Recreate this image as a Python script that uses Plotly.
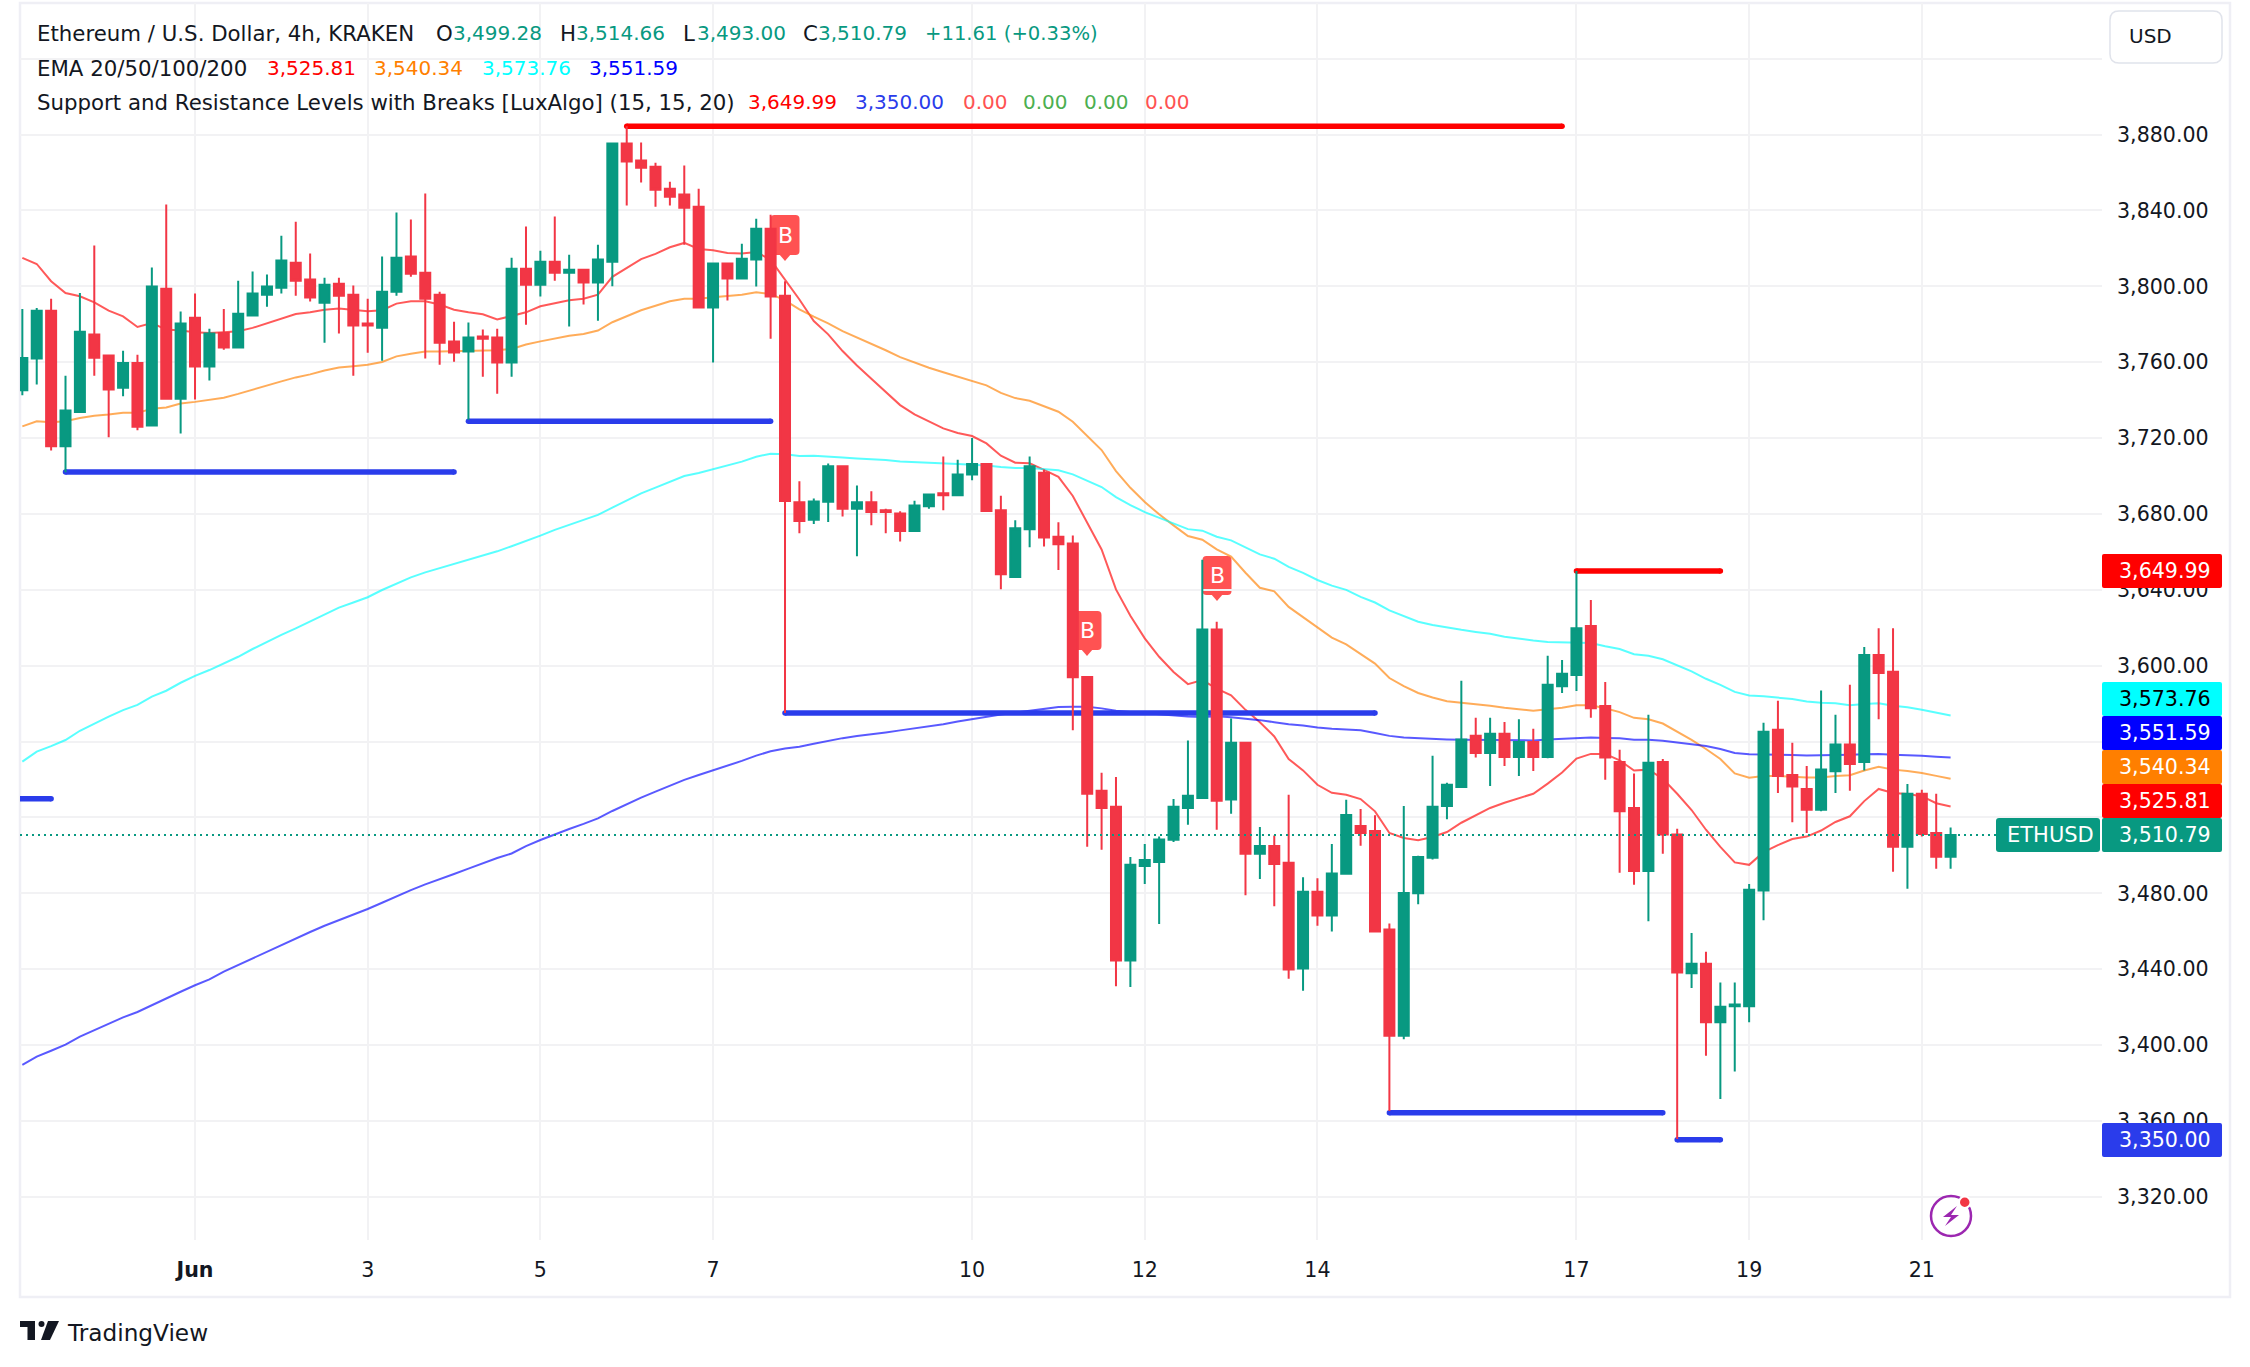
import pandas as pd
import plotly.graph_objects as go

# --- chart data, 4h bars ---
first_bar = "2024-05-30 00:00"

open_prices = [
    3745.2, 3761.9, 3787.2, 3715.7, 3733.8, 3774.6, 3763.5, 3746.6, 3759.6, 3726.6,
    3798.8, 3740.8, 3783.5, 3757.7, 3775.4, 3767.7, 3784.6, 3795.6, 3799.3, 3812.5,
    3803.6, 3791.4, 3801.4, 3795.6, 3780.4, 3778.2, 3797.2, 3815.7, 3807.2, 3795.6,
    3770.9, 3765.6, 3773.5, 3773.0, 3759.8, 3809.3, 3800.9, 3813.0, 3807.2, 3808.8,
    3802.0, 3813.0, 3875.3, 3866.3, 3863.1, 3851.5, 3848.4, 3842.0, 3788.8, 3812.0,
    3804.1, 3814.1, 3830.4, 3795.0, 3686.2, 3676.9, 3686.4, 3705.1, 3682.7, 3686.2,
    3682.0, 3680.3, 3671.0, 3684.0, 3690.9, 3689.8, 3700.8, 3706.4, 3681.9, 3646.7,
    3671.9, 3701.7, 3668.0, 3664.4, 3594.1, 3534.0, 3525.6, 3444.6, 3494.4, 3496.5,
    3508.2, 3525.0, 3530.3, 3619.1, 3529.5, 3559.4, 3500.8, 3504.9, 3496.1, 3440.3,
    3480.8, 3468.3, 3490.3, 3515.5, 3512.9, 3460.9, 3404.9, 3480.0, 3498.7, 3526.0,
    3536.1, 3563.0, 3554.0, 3564.1, 3551.8, 3559.8, 3551.8, 3589.2, 3595.1, 3620.9,
    3578.7, 3549.2, 3525.0, 3491.8, 3549.2, 3511.0, 3437.8, 3442.8, 3412.0, 3420.4,
    3420.4, 3481.5, 3566.2, 3542.4, 3535.0, 3524.1, 3544.4, 3558.4, 3549.2, 3605.6,
    3596.8, 3504.5, 3532.5, 3511.8, 3499.28,
]
high_prices = [
    3788.0, 3788.6, 3793.5, 3752.9, 3796.5, 3821.5, 3763.5, 3766.1, 3764.0, 3809.9,
    3843.1, 3786.7, 3796.2, 3777.7, 3788.0, 3803.0, 3807.8, 3806.2, 3826.7, 3834.1,
    3817.3, 3804.6, 3804.6, 3800.4, 3793.5, 3815.7, 3838.9, 3835.2, 3848.9, 3797.2,
    3781.4, 3780.9, 3777.2, 3777.7, 3815.1, 3831.5, 3818.8, 3836.8, 3816.7, 3808.8,
    3822.0, 3875.3, 3884.4, 3875.8, 3865.2, 3855.2, 3863.7, 3851.5, 3812.5, 3812.0,
    3822.5, 3835.7, 3837.8, 3802.7, 3697.2, 3688.1, 3706.6, 3705.1, 3695.0, 3692.0,
    3682.7, 3681.4, 3687.0, 3690.3, 3710.3, 3708.6, 3720.0, 3706.4, 3689.6, 3676.7,
    3710.3, 3703.4, 3675.6, 3668.7, 3594.1, 3543.5, 3541.3, 3499.1, 3506.0, 3509.9,
    3529.7, 3560.5, 3655.8, 3623.2, 3572.2, 3559.4, 3515.0, 3510.5, 3531.9, 3488.5,
    3487.9, 3506.0, 3529.3, 3524.5, 3521.1, 3464.1, 3526.0, 3499.8, 3552.5, 3538.3,
    3592.0, 3572.5, 3572.5, 3570.3, 3571.8, 3566.7, 3605.2, 3603.0, 3649.9, 3634.6,
    3591.4, 3555.7, 3543.2, 3574.2, 3550.8, 3514.0, 3459.1, 3449.2, 3432.9, 3432.9,
    3484.9, 3569.9, 3581.5, 3559.4, 3547.1, 3586.9, 3574.2, 3589.9, 3609.9, 3619.8,
    3619.8, 3537.6, 3534.6, 3532.5, 3514.66,
]
low_prices = [
    3742.6, 3748.2, 3713.4, 3702.0, 3733.3, 3752.9, 3720.4, 3742.0, 3724.1, 3726.6,
    3740.8, 3722.4, 3740.3, 3750.3, 3766.6, 3767.7, 3784.6, 3789.3, 3796.2, 3795.1,
    3792.0, 3770.3, 3775.1, 3752.9, 3765.0, 3760.8, 3795.1, 3805.1, 3761.9, 3758.7,
    3760.3, 3729.7, 3752.4, 3743.4, 3752.4, 3779.8, 3794.6, 3803.0, 3778.8, 3790.4,
    3781.9, 3800.0, 3842.6, 3854.7, 3842.0, 3842.6, 3822.0, 3788.3, 3759.8, 3792.5,
    3804.1, 3799.9, 3772.4, 3575.0, 3669.8, 3674.7, 3675.8, 3678.6, 3657.7, 3674.1,
    3669.8, 3665.5, 3671.0, 3682.7, 3681.9, 3689.8, 3697.8, 3681.6, 3640.3, 3646.7,
    3662.5, 3662.9, 3650.4, 3565.9, 3504.5, 3503.0, 3431.0, 3430.6, 3484.9, 3463.8,
    3507.0, 3516.1, 3530.3, 3513.5, 3521.9, 3479.0, 3487.5, 3473.2, 3434.9, 3428.6,
    3462.9, 3459.9, 3489.8, 3505.1, 3459.9, 3365.2, 3403.0, 3474.2, 3497.8, 3519.1,
    3536.1, 3551.6, 3536.6, 3547.1, 3541.9, 3544.5, 3551.2, 3585.6, 3586.7, 3572.5,
    3539.8, 3490.8, 3484.5, 3465.2, 3500.9, 3350.5, 3430.1, 3394.4, 3371.6, 3386.0,
    3412.0, 3465.8, 3532.9, 3517.4, 3511.8, 3523.2, 3532.9, 3534.0, 3544.7, 3571.8,
    3491.4, 3482.4, 3509.9, 3492.9, 3493.0,
]
close_prices = [
    3762.2, 3787.2, 3715.7, 3734.5, 3776.1, 3762.4, 3745.6, 3759.6, 3726.0, 3799.9,
    3740.8, 3780.4, 3757.7, 3775.1, 3767.7, 3785.6, 3796.2, 3799.9, 3813.6, 3803.0,
    3794.1, 3800.9, 3795.1, 3779.3, 3779.3, 3797.2, 3815.1, 3806.7, 3793.5, 3770.3,
    3765.1, 3773.0, 3772.4, 3759.8, 3809.3, 3800.9, 3813.0, 3807.2, 3808.8, 3802.0,
    3814.1, 3875.3, 3865.8, 3862.6, 3851.0, 3847.3, 3841.5, 3788.8, 3812.0, 3804.1,
    3814.6, 3830.4, 3794.6, 3686.8, 3676.3, 3686.6, 3705.1, 3682.7, 3686.2, 3681.0,
    3681.0, 3671.0, 3684.4, 3690.3, 3689.8, 3700.8, 3706.4, 3681.6, 3648.2, 3672.4,
    3705.1, 3667.6, 3664.0, 3593.9, 3532.5, 3525.0, 3444.6, 3495.0, 3497.6, 3508.4,
    3525.6, 3531.4, 3619.1, 3528.8, 3559.4, 3500.8, 3504.9, 3495.4, 3439.8, 3480.8,
    3468.3, 3490.5, 3521.3, 3511.8, 3459.9, 3404.9, 3480.2, 3499.1, 3525.6, 3537.2,
    3561.1, 3554.0, 3564.1, 3551.8, 3559.8, 3551.8, 3589.9, 3595.7, 3619.8, 3577.6,
    3551.6, 3523.2, 3491.8, 3548.8, 3511.0, 3438.3, 3442.8, 3412.0, 3420.2, 3421.3,
    3481.9, 3565.2, 3541.9, 3536.3, 3524.1, 3545.3, 3558.4, 3548.2, 3605.6, 3596.1,
    3504.5, 3532.5, 3511.2, 3499.28, 3510.79,
]

ema20 = [
    3815.0, 3811.8, 3802.7, 3796.5, 3794.8, 3791.6, 3787.2, 3784.2, 3778.6, 3780.7,
    3777.2, 3776.7, 3775.8, 3775.4, 3775.8, 3776.3, 3778.1, 3780.4, 3782.8, 3785.4,
    3786.3, 3787.7, 3788.3, 3787.7, 3786.9, 3787.4, 3790.9, 3792.1, 3792.1, 3790.4,
    3787.7, 3786.3, 3785.3, 3782.5, 3784.6, 3786.3, 3789.5, 3791.2, 3792.7, 3793.5,
    3795.6, 3805.0, 3809.7, 3814.4, 3817.1, 3820.6, 3822.9, 3819.7, 3819.0, 3817.6,
    3817.3, 3818.1, 3814.0, 3803.7, 3793.1, 3781.7, 3774.7, 3765.9, 3758.3, 3751.3,
    3744.5, 3737.4, 3732.5, 3728.6, 3725.1, 3722.7, 3721.1, 3717.2, 3710.7, 3707.0,
    3706.7, 3703.2, 3699.6, 3689.5, 3675.4, 3661.3, 3640.2, 3626.3, 3614.4, 3604.7,
    3596.7, 3590.3, 3592.4, 3587.9, 3584.4, 3576.7, 3570.2, 3562.7, 3550.8, 3544.8,
    3537.2, 3533.0, 3531.9, 3529.7, 3523.2, 3511.8, 3509.2, 3508.0, 3509.7, 3512.3,
    3517.2, 3521.1, 3525.0, 3527.7, 3530.3, 3532.5, 3537.8, 3543.7, 3551.0, 3553.5,
    3553.5, 3550.1, 3544.7, 3545.2, 3540.4, 3532.5, 3523.9, 3513.5, 3504.5, 3496.3,
    3495.0, 3501.7, 3505.4, 3508.6, 3509.9, 3513.1, 3517.6, 3520.6, 3528.6, 3535.0,
    3532.9, 3532.3, 3531.2, 3527.5, 3525.81,
]
ema50 = [
    3726.2, 3728.9, 3728.3, 3728.9, 3730.6, 3731.8, 3732.4, 3733.3, 3733.3, 3735.5,
    3736.1, 3738.2, 3739.1, 3740.3, 3741.3, 3743.3, 3745.6, 3747.8, 3749.9, 3752.0,
    3753.6, 3755.6, 3757.2, 3757.9, 3758.7, 3760.1, 3763.1, 3764.5, 3765.6, 3765.6,
    3765.8, 3766.1, 3766.3, 3766.3, 3767.0, 3769.3, 3771.0, 3772.4, 3774.0, 3774.9,
    3776.7, 3781.1, 3784.2, 3787.4, 3789.8, 3792.1, 3793.5, 3793.5, 3794.2, 3794.8,
    3795.6, 3796.9, 3796.0, 3792.6, 3787.9, 3784.0, 3780.5, 3776.4, 3773.1, 3769.9,
    3766.3, 3762.7, 3759.8, 3757.1, 3754.7, 3752.4, 3750.4, 3747.8, 3743.8, 3741.1,
    3739.7, 3736.9, 3733.9, 3728.6, 3721.1, 3713.7, 3702.6, 3693.8, 3686.3, 3679.8,
    3674.0, 3668.4, 3666.4, 3661.3, 3657.5, 3649.0, 3641.1, 3639.2, 3631.0, 3625.6,
    3619.8, 3614.8, 3611.2, 3606.0, 3601.1, 3593.5, 3589.2, 3585.6, 3583.2, 3581.3,
    3580.6, 3579.6, 3578.9, 3577.8, 3577.2, 3576.3, 3577.0, 3577.8, 3579.1, 3579.1,
    3577.6, 3575.5, 3572.5, 3571.8, 3569.5, 3565.2, 3560.9, 3556.1, 3550.8, 3543.2,
    3540.9, 3541.9, 3541.9, 3541.5, 3541.1, 3541.1, 3541.9, 3542.2, 3544.7, 3546.7,
    3545.2, 3544.5, 3543.4, 3541.9, 3540.34,
]
ema100 = [
    3549.4, 3554.7, 3557.6, 3560.8, 3565.7, 3569.6, 3573.1, 3576.6, 3579.3, 3583.7,
    3586.8, 3591.0, 3594.6, 3597.7, 3601.1, 3604.7, 3608.8, 3612.7, 3616.2, 3619.7,
    3623.2, 3627.1, 3630.6, 3633.3, 3636.1, 3639.9, 3643.4, 3646.6, 3649.2, 3651.4,
    3653.8, 3656.1, 3658.4, 3660.3, 3663.0, 3665.6, 3668.6, 3671.6, 3674.2, 3676.5,
    3679.5, 3683.3, 3687.2, 3690.9, 3693.9, 3697.0, 3700.0, 3701.6, 3703.7, 3705.5,
    3707.6, 3710.2, 3711.8, 3711.5, 3710.6, 3710.7, 3710.4, 3709.8, 3709.3, 3709.0,
    3708.4, 3707.6, 3707.2, 3706.9, 3706.5, 3706.3, 3706.0, 3705.6, 3704.7, 3704.2,
    3704.2, 3703.5, 3703.0, 3700.9, 3697.7, 3694.2, 3688.9, 3684.7, 3681.0, 3678.0,
    3675.4, 3672.0, 3671.2, 3668.0, 3666.1, 3662.2, 3658.7, 3656.4, 3652.1, 3648.9,
    3645.2, 3642.2, 3640.0, 3636.3, 3633.3, 3629.2, 3626.0, 3623.2, 3621.5, 3620.0,
    3618.9, 3617.8, 3616.8, 3615.3, 3614.2, 3613.3, 3612.5, 3612.3, 3612.3, 3612.0,
    3610.3, 3608.8, 3606.0, 3605.2, 3603.4, 3600.2, 3597.0, 3593.1, 3589.9, 3586.2,
    3584.3, 3583.9, 3583.2, 3582.4, 3581.1, 3580.4, 3580.2, 3579.1, 3579.8, 3580.2,
    3578.9, 3578.1, 3576.8, 3575.3, 3573.76,
]
ema200 = [
    3389.5, 3393.9, 3397.0, 3400.2, 3404.4, 3407.9, 3411.4, 3414.6, 3417.4, 3421.1,
    3424.4, 3428.1, 3431.5, 3434.6, 3438.7, 3442.2, 3446.0, 3449.2, 3452.7, 3456.2,
    3459.6, 3462.9, 3465.9, 3468.5, 3471.7, 3475.0, 3478.4, 3481.7, 3484.7, 3487.3,
    3490.2, 3493.0, 3496.0, 3498.6, 3501.0, 3504.9, 3508.1, 3511.1, 3513.9, 3516.6,
    3519.5, 3523.4, 3527.1, 3530.4, 3533.6, 3536.8, 3539.8, 3542.4, 3544.9, 3547.1,
    3549.8, 3552.6, 3554.9, 3556.3, 3557.3, 3558.8, 3560.5, 3561.8, 3562.9, 3563.7,
    3564.8, 3565.9, 3567.0, 3568.1, 3569.1, 3570.6, 3571.9, 3573.2, 3574.3, 3575.2,
    3576.2, 3577.3, 3578.2, 3578.4, 3578.4, 3577.5, 3576.2, 3575.6, 3575.0, 3574.5,
    3574.1, 3573.2, 3573.0, 3573.4, 3572.8, 3572.2, 3571.3, 3570.2, 3569.1, 3568.5,
    3567.4, 3566.8, 3566.3, 3566.0, 3564.5, 3563.0, 3562.2, 3561.7, 3561.3, 3561.1,
    3560.9, 3560.9, 3560.9, 3560.6, 3560.6, 3560.6, 3561.1, 3561.5, 3561.9, 3562.2,
    3561.9, 3561.7, 3560.9, 3560.9, 3560.4, 3559.6, 3558.7, 3557.6, 3556.1, 3554.0,
    3553.3, 3553.3, 3552.9, 3552.9, 3552.7, 3552.7, 3552.7, 3553.1, 3553.3, 3553.5,
    3553.1, 3552.9, 3552.5, 3552.0, 3551.59,
]

# level = (first date, last date, price)
support_levels = [
    ("2024-05-29 20:00", "2024-05-30 08:00", 3529.9),
    ("2024-05-30 12:00", "2024-06-04 00:00", 3702.1),
    ("2024-06-04 04:00", "2024-06-07 16:00", 3728.9),
    ("2024-06-07 20:00", "2024-06-14 16:00", 3575.0),
    ("2024-06-14 20:00", "2024-06-18 00:00", 3364.3),
    ("2024-06-18 04:00", "2024-06-18 16:00", 3350.0),
]
resistance_levels = [
    ("2024-06-06 00:00", "2024-06-16 20:00", 3884.4),
    ("2024-06-17 00:00", "2024-06-18 16:00", 3649.99),
]

price_ticks = [3320, 3360, 3400, 3440, 3480, 3520, 3560, 3600, 3640, 3680, 3720, 3760, 3800, 3840, 3880, 3920]
# 3,520 and 3,560 sit behind the price tags, 3,920 behind the USD button
price_labels = ["3,320.00", "3,360.00", "3,400.00", "3,440.00", "3,480.00", "", "", "3,600.00", "3,640.00",
                "3,680.00", "3,720.00", "3,760.00", "3,800.00", "3,840.00", "3,880.00", ""]
date_ticks = ["2024-06-01", "2024-06-03", "2024-06-05", "2024-06-07", "2024-06-10",
              "2024-06-12", "2024-06-14", "2024-06-17", "2024-06-19", "2024-06-21"]
date_labels = ["<b>Jun</b>", "3", "5", "7", "10", "12", "14", "17", "19", "21"]

# --- page geometry, pixels ---
W, H = 2250, 1367
LEFT, RIGHT, TOP, BOTTOM = 20, 2102, 3, 1240
X_RANGE = ["2024-05-29 23:21", "2024-06-23 02:05"]
Y_RANGE = [3297.2, 3949.4]

FONT = "DejaVu Sans"
DARK = "#131722"
GREEN = "#089981"
RED = "#F23645"
NUM_SIZE = 20
WORD_SIZE = 21.3
TAG_SIZE = 20.6


def px(x):
    return (x - LEFT) / (RIGHT - LEFT)


def py(y):
    return (BOTTOM - y) / (BOTTOM - TOP)


def polygon(points, fill, layer="above"):
    path = "M " + " L ".join(f"{px(x):.5f},{py(y):.5f}" for x, y in points) + " Z"
    return dict(type="path", path=path, xref="paper", yref="paper",
                fillcolor=fill, line=dict(width=0), layer=layer)


def round_rect(x0, y0, x1, y1, r, fill, line=None, layer="above"):
    rx = r / (RIGHT - LEFT)
    ry = r / (BOTTOM - TOP)
    a, b, c, d = px(x0), py(y0), px(x1), py(y1)
    path = f"M {a+rx:.5f},{b:.5f} L {c-rx:.5f},{b:.5f} Q {c:.5f},{b:.5f} {c:.5f},{b-ry:.5f} "
    path += f"L {c:.5f},{d+ry:.5f} Q {c:.5f},{d:.5f} {c-rx:.5f},{d:.5f} "
    path += f"L {a+rx:.5f},{d:.5f} Q {a:.5f},{d:.5f} {a:.5f},{d+ry:.5f} "
    path += f"L {a:.5f},{b-ry:.5f} Q {a:.5f},{b:.5f} {a+rx:.5f},{b:.5f} Z"
    return dict(type="path", path=path, xref="paper", yref="paper", fillcolor=fill,
                line=dict(color=line, width=1.5) if line else dict(width=0), layer=layer)


def text(x, y, s, color=DARK, size=NUM_SIZE, anchor="left"):
    return dict(x=px(x), y=py(y), xref="paper", yref="paper", text=s, showarrow=False,
                xanchor=anchor, yanchor="middle", borderpad=0, borderwidth=0,
                font=dict(family=FONT, size=size, color=color))


fig = go.Figure()

times = pd.date_range(first_bar, periods=len(close_prices), freq="4h")

for values, color in [(ema20, "rgba(255,0,0,0.65)"), (ema50, "rgba(255,127,0,0.65)"),
                      (ema100, "rgba(0,255,255,0.65)"), (ema200, "rgba(0,0,255,0.65)")]:
    fig.add_trace(go.Scatter(x=times, y=values, mode="lines", line=dict(color=color, width=2)))

# end markers stand in for the round line caps
for levels, color in [(support_levels, "#2A3CEB"), (resistance_levels, "#FF0000")]:
    for start, end, price in levels:
        fig.add_trace(go.Scatter(x=[start, end], y=[price, price], mode="lines+markers",
                                 line=dict(color=color, width=5.5),
                                 marker=dict(color=color, size=5.5, line=dict(width=0))))

# candles go on an overlaying axis pair so they sit on top of the lines
fig.add_trace(go.Candlestick(
    x=times, open=open_prices, high=high_prices, low=low_prices, close=close_prices,
    xaxis="x2", yaxis="y2",
    increasing=dict(line=dict(color=GREEN, width=2), fillcolor=GREEN),
    decreasing=dict(line=dict(color=RED, width=2), fillcolor=RED),
    whiskerwidth=0,
))

shapes = []
annotations = []

# last price dotted line
shapes.append(dict(type="line", xref="paper", yref="y", x0=0, x1=px(1996), y0=3510.79, y1=3510.79,
                   line=dict(color=GREEN, width=2, dash="2px,4px"), layer="above"))

# B break labels, below the candles
for cx, y0, y1 in [(785, 215, 255), (1087, 611, 650), (1217, 556, 595)]:
    shapes.append(round_rect(cx - 14.5, y0, cx + 14.5, y1, 4, "#FF5252", layer="below"))
    shapes.append(polygon([(cx - 6, y1 - 1), (cx + 6, y1 - 1), (cx, y1 + 6)], "#FF5252", layer="below"))
    annotations.append(text(cx, (y0 + y1) / 2, "B", "#FFFFFF", 22, "center"))

# frame round the whole widget
shapes.append(dict(type="rect", xref="paper", yref="paper", x0=px(20), x1=px(2230), y0=py(1297), y1=py(3),
                   line=dict(color="#EFEFF5", width=2.5), layer="below"))

# USD button
shapes.append(round_rect(2110, 11, 2222, 63, 9, "#FFFFFF", "#E0E3EB"))
annotations.append(text(2129, 36, "USD"))

# price tags on the scale: (text, centre y, fill, text colour)
tags = [
    ("3,649.99", 571, "#FF0000", "#FFFFFF"),
    ("3,573.76", 699, "#00FFFF", "#000000"),
    ("3,551.59", 733, "#0000FF", "#FFFFFF"),
    ("3,540.34", 767, "#FF7F00", "#FFFFFF"),
    ("3,525.81", 801, "#FF0000", "#FFFFFF"),
    ("3,510.79", 835, GREEN, "#FFFFFF"),
    ("3,350.00", 1140, "#2A3CEB", "#FFFFFF"),
]
for label, yc, fill, fg in tags:
    shapes.append(round_rect(2102, yc - 17, 2222, yc + 17, 2, fill))
    annotations.append(text(2118.7, yc, label, fg, TAG_SIZE))
shapes.append(round_rect(1996, 818, 2100, 852, 3, GREEN))
annotations.append(text(2007, 835, "ETHUSD", "#FFFFFF", 21))

# legend block, (x, text, colour) per line
legend_rows = [
    (33, [(37, "Ethereum / U.S. Dollar, 4h, KRAKEN", DARK), (436, "O", DARK), (453, "3,499.28", GREEN),
          (560, "H", DARK), (576, "3,514.66", GREEN), (683, "L", DARK), (697, "3,493.00", GREEN),
          (803, "C", DARK), (818, "3,510.79", GREEN), (925, "+11.61 (+0.33%)", GREEN)]),
    (68, [(37, "EMA 20/50/100/200", DARK), (267, "3,525.81", "#FF0000"), (374, "3,540.34", "#FF7F00"),
          (482, "3,573.76", "#00FFFF"), (589, "3,551.59", "#0000FF")]),
    (102, [(37, "Support and Resistance Levels with Breaks [LuxAlgo] (15, 15, 20)", DARK),
           (748, "3,649.99", "#FF0000"), (855, "3,350.00", "#2A3CEB"), (963, "0.00", "#FF5252"),
           (1023, "0.00", "#4CAF50"), (1084, "0.00", "#4CAF50"), (1145, "0.00", "#FF5252")]),
]
for yc, pieces in legend_rows:
    for x, s, color in pieces:
        size = WORD_SIZE if color == DARK else NUM_SIZE
        if s.startswith("+"):
            size = 19.6
        annotations.append(text(x, yc, s, color, size))

# TradingView mark
shapes.append(polygon([(20, 1321), (35, 1321), (35, 1340), (27.5, 1340), (27.5, 1327), (20, 1327)], DARK))
shapes.append(dict(type="circle", xref="paper", yref="paper", x0=px(38.5), x1=px(44.5), y0=py(1327), y1=py(1321),
                   fillcolor=DARK, line=dict(width=0), layer="above"))
shapes.append(polygon([(48, 1321), (59, 1321), (50, 1340), (41, 1340)], DARK))
annotations.append(text(67, 1332, "TradingView", DARK, 23.2))

# news flash icon
shapes.append(dict(type="circle", xref="paper", yref="paper", x0=px(1931), x1=px(1971), y0=py(1236), y1=py(1196),
                   fillcolor="rgba(0,0,0,0)", line=dict(color="#9C27B0", width=2.5), layer="above"))
shapes.append(polygon([(1957, 1206), (1943, 1217), (1951, 1217), (1945, 1226), (1959, 1215), (1951, 1215)], "#9C27B0"))
shapes.append(dict(type="circle", xref="paper", yref="paper", x0=px(1959), x1=px(1970.5), y0=py(1208), y1=py(1196.5),
                   fillcolor=RED, line=dict(color="#FFFFFF", width=2), layer="above"))

fig.update_layout(
    width=W, height=H,
    margin=dict(l=LEFT, r=W - RIGHT, t=TOP, b=H - BOTTOM, pad=0, autoexpand=False),
    paper_bgcolor="white", plot_bgcolor="white",
    showlegend=False,
    hovermode=False,
    boxgap=0.305,
    boxgroupgap=0,
    font=dict(family=FONT, size=TAG_SIZE, color=DARK),
    shapes=shapes,
    annotations=annotations,
    xaxis=dict(type="date", range=X_RANGE, tickmode="array", tickvals=date_ticks, ticktext=date_labels,
               showgrid=True, gridcolor="#F2F2F4", gridwidth=1.5, zeroline=False, showline=False,
               ticks="", ticklabelstandoff=15, rangeslider=dict(visible=False)),
    yaxis=dict(side="right", range=Y_RANGE, tickmode="array", tickvals=price_ticks, ticktext=price_labels,
               showgrid=True, gridcolor="#F2F2F4", gridwidth=1.5, zeroline=False, showline=False,
               ticks="", ticklabelstandoff=14),
    xaxis2=dict(type="date", range=X_RANGE, overlaying="x", visible=False, rangeslider=dict(visible=False)),
    yaxis2=dict(range=Y_RANGE, overlaying="y", visible=False),
)

fig.write_html("out.html", config=dict(displayModeBar=False),
               post_script="document.body.style.margin='0';")
